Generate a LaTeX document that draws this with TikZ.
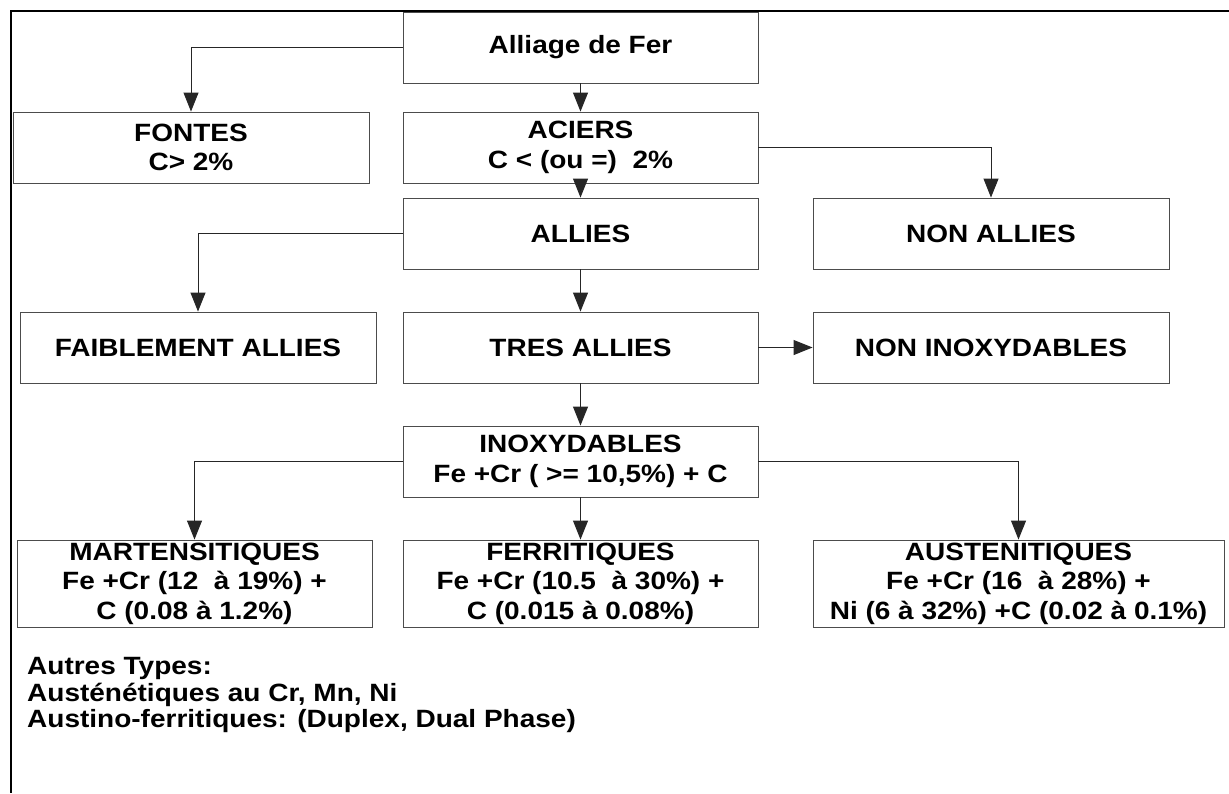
\documentclass[tikz,border=0pt]{standalone}
\usepackage{fontspec}
\setmainfont{Liberation Sans}[FakeStretch=1.12]
\usetikzlibrary{arrows.meta}

\begin{document}
\begin{tikzpicture}[x=1pt, y=-1pt,
  box/.style={draw=black!70, line width=0.9pt, align=center, inner sep=0pt,
    minimum width=355pt, minimum height=71pt,
    font=\fontsize{25}{29.5}\selectfont\bfseries},
  tallbox/.style={box, minimum height=87pt},
  link/.style={draw=black!85, line width=1pt, -{Triangle[length=19pt,width=15pt]}}]

\useasboundingbox (0,0) rectangle (1229,793);

% Frame
\draw[line width=2.5pt] (1229,11) -- (11,11) -- (11,793);

% Boxes
\node[box] (fer) at (580.5,47.5) {Alliage de Fer};
\node[box, minimum width=356pt] (fontes) at (191,147.5) {FONTES\\C> 2\%};
\node[box] (aciers) at (580.5,147.5) {ACIERS\\C < (ou =)~ 2\%};
\node[box] (allies) at (580.5,233.5) {ALLIES};
\node[box, minimum width=356pt] (nonallies) at (991,233.5) {NON ALLIES};
\node[box, minimum width=356pt] (faible) at (198,347.5) {FAIBLEMENT ALLIES};
\node[box] (tres) at (580.5,347.5) {TRES ALLIES};
\node[box, minimum width=356pt] (noninox) at (991,347.5) {NON INOXYDABLES};
\node[box] (inox) at (580.5,461.5) {INOXYDABLES\\Fe +Cr ( >= 10,5\%) + C};
\node[tallbox] (marten) at (194.5,583.5) {MARTENSITIQUES\\Fe +Cr (12~ à 19\%) +\\C (0.08 à 1.2\%)};
\node[tallbox] (ferri) at (580.5,583.5) {FERRITIQUES\\Fe +Cr (10.5~ à 30\%) +\\C (0.015 à 0.08\%)};
\node[tallbox, minimum width=411pt] (austen) at (1018.5,583.5) {AUSTENITIQUES\\Fe +Cr (16~ à 28\%) +\\Ni (6 à 32\%) +C (0.02 à 0.1\%)};

% Note
\node[anchor=west, align=left, inner sep=0pt, font=\fontsize{25}{26.5}\selectfont\bfseries] (autres) at (27,695)
  {Autres Types:\\Austénétiques au Cr, Mn, Ni\\Austino-ferritiques: (Duplex, Dual Phase)};

% Links
\draw[link] (fer.west) -| (fontes.north);
\draw[link] (fer) -- (aciers);
\draw[link] (aciers.east) -| (nonallies.north);
\draw[link] (aciers) -- (allies);
\draw[link] (allies.west) -| (faible.north);
\draw[link] (allies) -- (tres);
\draw[link] (tres) -- (noninox);
\draw[link] (tres) -- (inox);
\draw[link] (inox.west) -| (marten.north);
\draw[link] (inox) -- (ferri);
\draw[link] (inox.east) -| (austen.north);

\end{tikzpicture}
\end{document}
